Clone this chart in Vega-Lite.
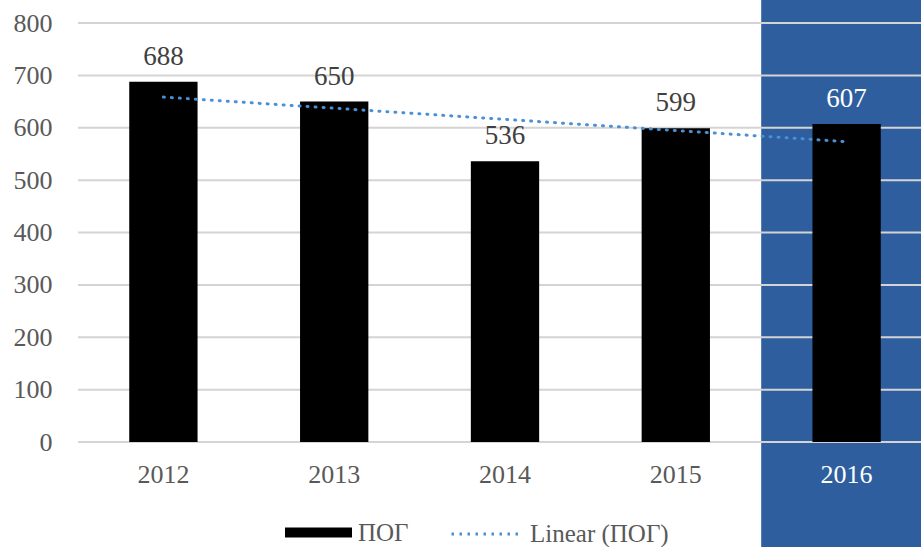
{
  "$schema": "https://vega.github.io/schema/vega-lite/v6.json",
  "width": 854,
  "height": 419,
  "autosize": {"type": "none"},
  "padding": {"left": 78, "top": 23, "right": 0, "bottom": 105},
  "background": "white",
  "config": {"view": {"stroke": null}, "font": "Liberation Serif"},
  "datasets": {
    "pog": [
      {"year": "2012", "value": 688, "trend": 658.6},
      {"year": "2013", "value": 650, "trend": 637.3},
      {"year": "2014", "value": 536, "trend": 616.0},
      {"year": "2015", "value": 599, "trend": 594.7},
      {"year": "2016", "value": 607, "trend": 573.4}
    ],
    "grid": [
      {"g": 0}, {"g": 100}, {"g": 200}, {"g": 300}, {"g": 400},
      {"g": 500}, {"g": 600}, {"g": 700}, {"g": 800}
    ]
  },
  "resolve": {"scale": {"x": "independent"}},
  "layer": [
    {
      "data": {"name": "pog"},
      "transform": [{"filter": "datum.year === '2016'"}],
      "mark": {"type": "rect", "color": "#2E5E9E"},
      "encoding": {
        "x": {
          "field": "year", "type": "ordinal",
          "scale": {"domain": ["2012", "2013", "2014", "2015", "2016"], "paddingInner": 0, "paddingOuter": 0},
          "axis": null
        },
        "y": {"datum": 850, "type": "quantitative", "scale": {"domain": [0, 800]},
          "axis": {
            "title": null, "domain": false, "ticks": false, "grid": false,
            "values": [0, 100, 200, 300, 400, 500, 600, 700, 800],
            "labelFont": "Liberation Serif", "labelFontSize": 26, "labelColor": "#595959",
            "labelPadding": 26
          }
        },
        "y2": {"datum": -240}
      }
    },
    {
      "layer": [
        {
          "data": {"name": "grid"},
          "mark": {"type": "rule", "color": "#d4d4d4", "strokeWidth": 2},
          "encoding": {
            "y": {"field": "g", "type": "quantitative", "scale": {"domain": [0, 800]},
              "axis": {
                "title": null, "domain": false, "ticks": false, "grid": false,
                "values": [0, 100, 200, 300, 400, 500, 600, 700, 800],
                "labelFont": "Liberation Serif", "labelFontSize": 26, "labelColor": "#595959",
                "labelPadding": 26
              }
            }
          }
        },
        {
          "data": {"name": "pog"},
          "mark": {"type": "bar"},
          "encoding": {
            "x": {
              "field": "year", "type": "ordinal",
              "scale": {"domain": ["2012", "2013", "2014", "2015", "2016"], "paddingInner": 0.6, "paddingOuter": 0.3},
              "axis": {
                "title": null, "domain": false, "ticks": false, "grid": false, "zindex": 2,
                "labelAngle": 0, "labelFont": "Liberation Serif", "labelFontSize": 26,
                "labelColor": {"condition": {"test": "datum.value === '2016'", "value": "white"}, "value": "#595959"},
                "labelBaseline": "alphabetic", "labelPadding": 40
              }
            },
            "y": {
              "field": "value", "type": "quantitative",
              "scale": {"domain": [0, 800]},
              "axis": {
                "title": null, "domain": false, "ticks": false, "grid": false,
                "values": [0, 100, 200, 300, 400, 500, 600, 700, 800],
                "labelFont": "Liberation Serif", "labelFontSize": 26, "labelColor": "#595959",
                "labelPadding": 26
              }
            },
            "fill": {
              "datum": "ПОГ", "type": "nominal",
              "scale": {"range": ["#000000"]},
              "legend": {
                "orient": "none", "legendX": 207, "legendY": 476, "title": null,
                "symbolType": "M-1,-0.15H1V0.15H-1Z", "symbolSize": 4489, "symbolStrokeWidth": 0,
                "labelFont": "Liberation Serif", "labelFontSize": 25, "labelColor": "#595959", "labelOffset": 6
              }
            }
          }
        },
        {
          "data": {"name": "pog"},
          "mark": {"type": "text", "fontSize": 27, "baseline": "alphabetic", "align": "center", "dy": -17, "font": "Liberation Serif"},
          "encoding": {
            "x": {"field": "year", "type": "ordinal"},
            "y": {"field": "value", "type": "quantitative"},
            "text": {"field": "value", "type": "quantitative"},
            "color": {"condition": {"test": "datum.year === '2016'", "value": "white"}, "value": "#404040"}
          }
        },
        {
          "data": {"name": "pog"},
          "mark": {"type": "line", "strokeWidth": 3, "strokeDash": [1, 7], "strokeCap": "round"},
          "encoding": {
            "x": {"field": "year", "type": "ordinal"},
            "y": {"field": "trend", "type": "quantitative"},
            "stroke": {
              "datum": "Linear (ПОГ)", "type": "nominal",
              "scale": {"range": ["#4A90D4"]},
              "legend": {
                "orient": "none", "legendX": 372, "legendY": 476, "title": null,
                "symbolType": "stroke", "symbolSize": 4489, "symbolStrokeWidth": 3, "symbolDash": [2.5, 5.5],
                "labelFont": "Liberation Serif", "labelFontSize": 25, "labelColor": "#595959", "labelOffset": 10
              }
            }
          }
        }
      ]
    }
  ]
}
